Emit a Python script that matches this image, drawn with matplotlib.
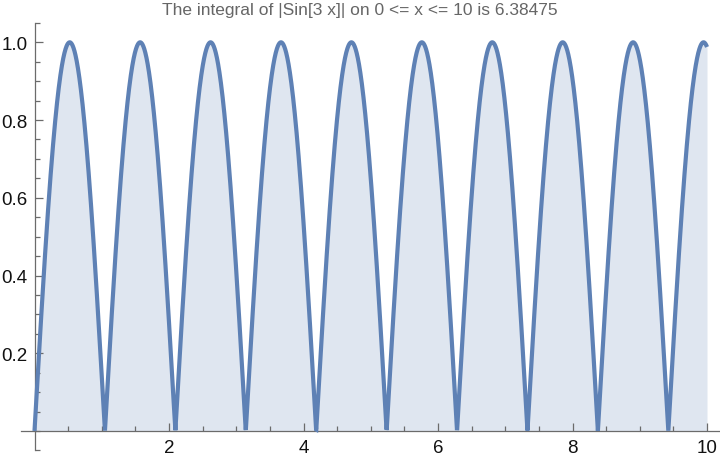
import numpy as np
import matplotlib
matplotlib.use("Agg")
import matplotlib.pyplot as plt
from matplotlib.ticker import FixedLocator, MultipleLocator

# Function plotted: |Sin[3 x]| on 0 <= x <= 10 (as stated in the chart title)
x_start, x_end = 0.0, 10.0
frequency = 3.0
n_samples = 4001
title_text = "The integral of |Sin[3 x]| on 0 <= x <= 10 is 6.38475"
x_tick_values = [2, 4, 6, 8, 10]
y_tick_values = [0.2, 0.4, 0.6, 0.8, 1.0]

x = np.linspace(x_start, x_end, n_samples)
y = np.abs(np.sin(frequency * x))

line_color = "#5E81B5"
fill_color = "#dfe6f0"
axis_color = "#6b6b6b"

fig = plt.figure(figsize=(7.2, 4.6), dpi=100)
ppu = 67.25
left_px = 21.0
x_min = -(34.5 - left_px) / ppu
x_max = x_min + (720 - left_px) / ppu
ax = fig.add_axes([left_px / 720, (460 - 451.4) / 460, (720 - left_px) / 720, (451.4 - 23.9) / 460])
ax.set_xlim(x_min, x_max)
ax.set_ylim(-0.05, 1.05)

ax.fill_between(x, 0, y, color=fill_color, linewidth=0, zorder=1)
ax.plot(x, y, color=line_color, linewidth=3.0, zorder=3, solid_joinstyle="miter",
        solid_capstyle="butt")

for s in ["top", "right"]:
    ax.spines[s].set_visible(False)
ax.spines["left"].set_position(("data", 0))
ax.spines["bottom"].set_position(("data", 0))
for s in ["left", "bottom"]:
    ax.spines[s].set_color(axis_color)
    ax.spines[s].set_linewidth(0.9)
    ax.spines[s].set_zorder(2)

ax.xaxis.set_major_locator(FixedLocator(x_tick_values))
ax.xaxis.set_minor_locator(MultipleLocator(0.5))
ax.yaxis.set_major_locator(FixedLocator(y_tick_values))
ax.yaxis.set_minor_locator(MultipleLocator(0.05))
ax.set_xticklabels([str(v) for v in x_tick_values])
ax.set_yticklabels([f"{v:.1f}" for v in y_tick_values])

ax.tick_params(which="both", direction="in", color=axis_color, width=0.9)
ax.tick_params(which="major", length=5.5)
ax.tick_params(which="minor", length=3.5)
ax.tick_params(axis="x", which="major", pad=5.5, labelsize=13.5, labelcolor="#111111")
ax.tick_params(axis="y", which="major", pad=5, labelsize=13.5, labelcolor="#111111")
for lab in ax.get_xticklabels() + ax.get_yticklabels():
    lab.set_fontfamily("Liberation Sans")

fig.text(0.5, 0.978, title_text, ha="center", va="center", fontsize=12.5,
         color="#666666", family="Liberation Sans")

ax.set_facecolor("none")
fig.savefig("out.png", dpi=100)
